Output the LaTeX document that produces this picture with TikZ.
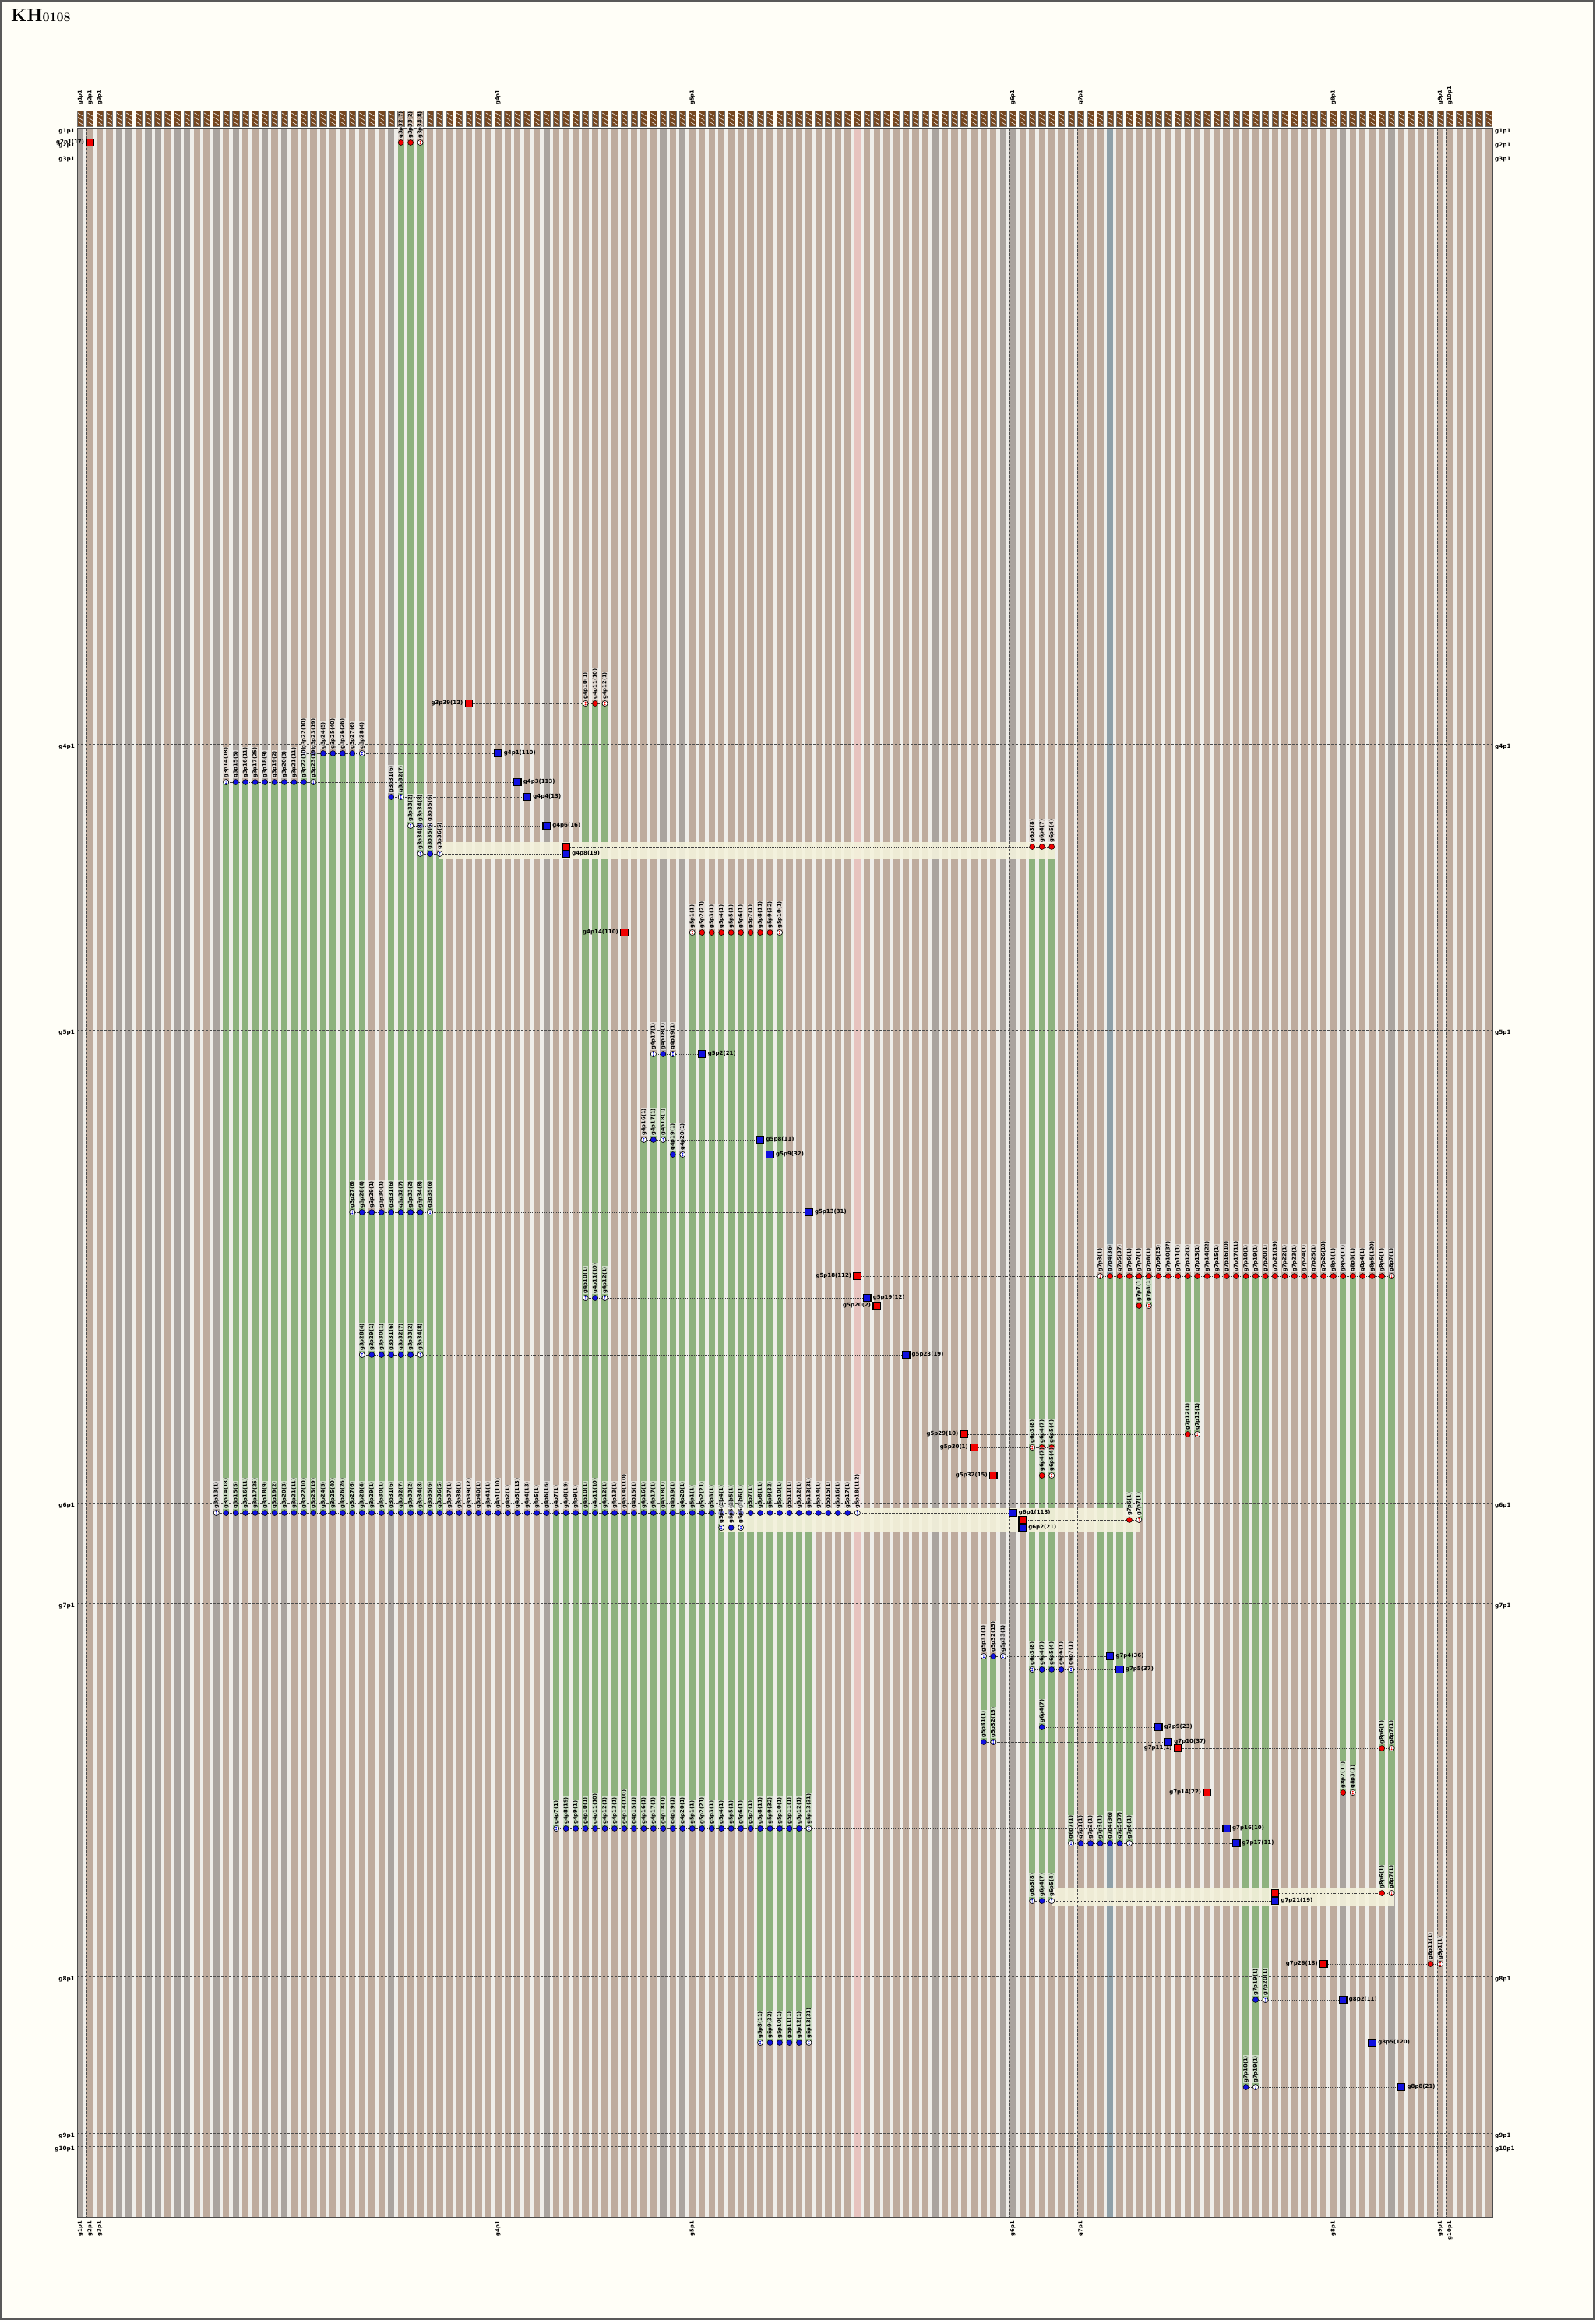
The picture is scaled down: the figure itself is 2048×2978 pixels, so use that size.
\documentclass[tikz,border=0pt]{standalone}
\usepackage{fontspec}
\newfontfamily\lbf{DejaVu Sans}
\pgfdeclarelayer{bg}
\pgfdeclarelayer{ln}
\pgfsetlayers{bg,ln,main}
\definecolor{paper}{HTML}{FFFEF7}
\definecolor{colbr}{HTML}{BEAB9D}
\definecolor{colgr}{HTML}{AAA49F}
\definecolor{colgap}{HTML}{EFEEEA}
\definecolor{colgrn}{HTML}{8EB27E}
\definecolor{colpink}{HTML}{E7C3BF}
\definecolor{colbgr}{HTML}{8FA0A8}
\definecolor{hdr}{HTML}{74461F}
\definecolor{cream}{HTML}{F4F2DC}
\definecolor{nblue}{HTML}{1010E0}
\definecolor{nred}{HTML}{F00000}
\newcommand\X[1]{\fpeval{99+12.47*(#1)}}
\newcommand\setn[2]{\expandafter\def\csname cn#1\endcsname{#2}}
\setn{1}{17}\setn{15}{18}\setn{16}{5}\setn{17}{11}\setn{18}{25}\setn{19}{9}\setn{20}{2}\setn{21}{3}\setn{22}{11}\setn{23}{10}\setn{24}{19}\setn{25}{5}\setn{26}{40}\setn{27}{26}\setn{28}{6}\setn{29}{4}\setn{32}{6}\setn{33}{7}\setn{34}{2}\setn{35}{8}\setn{36}{6}\setn{37}{5}\setn{40}{12}\setn{43}{110}\setn{45}{113}\setn{46}{13}\setn{48}{16}\setn{50}{19}\setn{52}{1}\setn{53}{10}\setn{54}{1}\setn{56}{110}\setn{64}{21}\setn{70}{11}\setn{71}{32}\setn{75}{31}\setn{80}{112}\setn{81}{12}\setn{82}{2}\setn{85}{19}\setn{91}{10}\setn{92}{1}\setn{94}{15}\setn{96}{113}\setn{97}{21}\setn{98}{8}\setn{99}{7}\setn{100}{4}\setn{106}{36}\setn{107}{37}\setn{111}{23}\setn{112}{37}\setn{116}{22}\setn{118}{10}\setn{119}{11}\setn{123}{19}\setn{128}{18}\setn{130}{11}\setn{133}{120}\setn{136}{21}
\newcommand\cname[1]{\ifnum#1=0 g1p1\else\ifnum#1=1 g2p1\else\ifnum#1<43 g3p\number\numexpr#1-1\relax\else\ifnum#1<63 g4p\number\numexpr#1-42\relax\else\ifnum#1<96 g5p\number\numexpr#1-62\relax\else\ifnum#1<103 g6p\number\numexpr#1-95\relax\else\ifnum#1<129 g7p\number\numexpr#1-102\relax\else\ifnum#1<140 g8p\number\numexpr#1-128\relax\else\ifnum#1=140 g9p1\else g10p\number\numexpr#1-140\relax\fi\fi\fi\fi\fi\fi\fi\fi\fi(\ifcsname cn#1\endcsname\csname cn#1\endcsname\else 1\fi)}
\newcommand\alldata{%
\ev{183}{1}{nred}{l}{33,34,35}{35}%
\ev{903}{40}{nred}{l}{52,53,54}{52,54}%
\ev{967}{43}{nblue}{r}{23,...,29}{23,29}%
\ev{1004}{45}{nblue}{r}{15,...,24}{15,24}%
\ev{1023}{46}{nblue}{r}{32,33}{33}%
\ev{1060}{48}{nblue}{r}{34,35,36}{34,36}%
\ev{1087}{50}{nred}{n}{98,99,100}{}%
\ev{1096}{50}{nblue}{r}{35,36,37}{35,37}%
\ev{1197}{56}{nred}{l}{63,...,72}{63,72}%
\ev{1353}{64}{nblue}{r}{59,60,61}{59,61}%
\ev{1463}{70}{nblue}{r}{58,59,60}{58,60}%
\ev{1482}{71}{nblue}{r}{61,62}{62}%
\ev{1556}{75}{nblue}{r}{28,...,36}{28,36}%
\ev{1638}{80}{nred}{l}{105,...,135}{105,135}%
\ev{1666}{81}{nblue}{r}{52,53,54}{52,54}%
\ev{1676}{82}{nred}{l}{109,110}{110}%
\ev{1739}{85}{nblue}{r}{29,...,35}{29,35}%
\ev{1841}{91}{nred}{l}{114,115}{115}%
\ev{1858}{92}{nred}{l}{98,99,100}{98}%
\ev{1894}{94}{nred}{l}{99,100}{100}%
\ev{1942}{96}{nblue}{r}{14,...,80}{14,80}%
\ev{1951}{97}{nred}{n}{108,109}{109}%
\ev{1961}{97}{nblue}{r}{66,67,68}{66,68}%
\ev{2126}{106}{nblue}{r}{93,94,95}{93,95}%
\ev{2143}{107}{nblue}{r}{98,...,102}{98,102}%
\ev{2217}{111}{nblue}{r}{99}{}%
\ev{2236}{112}{nblue}{r}{93,94}{94}%
\ev{2244}{113}{nred}{l}{134,135}{135}%
\ev{2301}{116}{nred}{l}{130,131}{131}%
\ev{2347}{118}{nblue}{r}{49,...,75}{49,75}%
\ev{2366}{119}{nblue}{r}{102,...,108}{102,108}%
\ev{2430}{123}{nred}{n}{134,135}{135}%
\ev{2440}{123}{nblue}{r}{98,99,100}{98,100}%
\ev{2521}{128}{nred}{l}{139,140}{140}%
\ev{2567}{130}{nblue}{r}{121,122}{122}%
\ev{2622}{133}{nblue}{r}{70,...,75}{70,75}%
\ev{2679}{136}{nblue}{r}{120,121}{121}%
}
\begin{document}
\begin{tikzpicture}[x=1pt,y=-1pt,
  sq/.style={rectangle,draw=black,line width=1.3pt,minimum width=9.5pt,minimum height=8.5pt,inner sep=0pt},
  circ/.style={circle,draw=black,line width=.5pt,minimum size=7pt,inner sep=0pt},
  patc/.style={circle,draw=black,line width=.5pt,minimum size=7pt,inner sep=0pt,fill=white,
    path picture={\fill[#1] ([yshift=1.4pt]path picture bounding box.center) circle (1.1pt);
                  \fill[#1] ([yshift=-1.4pt]path picture bounding box.center) circle (1.1pt);}},
  clab/.style={rotate=90,anchor=west,font=\lbf\bfseries\fontsize{6.8}{7}\selectfont,fill=white,fill opacity=.55,text opacity=1,inner sep=.5pt},
  slab/.style={font=\lbf\bfseries\fontsize{7}{8}\selectfont,inner sep=1pt},
  rlab/.style={font=\lbf\bfseries\fontsize{7.2}{8}\selectfont,inner sep=0pt},
  glab/.style={font=\lbf\bfseries\fontsize{6.8}{7}\selectfont,inner sep=0pt,rotate=90},
  evline/.style={black!75,line width=.6pt,dash pattern=on .6pt off 1.2pt},
  rowline/.style={black!70,line width=.7pt,dash pattern=on 3pt off 2pt},
]
\useasboundingbox (0,0) rectangle (2048,2978);
\begin{pgfonlayer}{bg}
\fill[paper] (0,0) rectangle (2048,2978);
\fill[colgap] (99,165) rectangle (1916,2846);
\foreach \c in {0,...,145}{\fill[colbr] (\X{\c},165) rectangle ({\X{\c}+8.3},2846);}
\foreach \c in {0,4,5,7,8,10,11,14,16,19,21,32,48,60,62,88,95,96,130,135}{\fill[colgr] (\X{\c},165) rectangle ({\X{\c}+8.3},2846);}
\fill[colpink] (\X{80},165) rectangle ({\X{80}+8.3},2846);
\fill[colbgr] (\X{106},165) rectangle ({\X{106}+8.3},2846);
\end{pgfonlayer}
% pass 1: record green spans
\def\ev#1#2#3#4#5#6{%
  \foreach \c in {#5}{%
    \ifcsname gmin\c\endcsname
      \ifnum#1<\csname gmin\c\endcsname\relax\expandafter\xdef\csname gmin\c\endcsname{#1}\fi
      \ifnum#1>\csname gmax\c\endcsname\relax\expandafter\xdef\csname gmax\c\endcsname{#1}\fi
    \else
      \expandafter\xdef\csname gmin\c\endcsname{#1}%
      \expandafter\xdef\csname gmax\c\endcsname{#1}%
    \fi}}
\alldata
\begin{pgfonlayer}{bg}
\foreach \c in {0,...,145}{%
  \ifcsname gmin\c\endcsname
    \ifnum\csname gmin\c\endcsname<\csname gmax\c\endcsname\relax
      \fill[colgrn] (\X{\c},\csname gmin\c\endcsname) rectangle ({\X{\c}+8.3},\csname gmax\c\endcsname);
    \fi
  \fi}
\fill[cream,opacity=.9] (564,1081) rectangle (1354,1102);
\fill[cream,opacity=.9] (925,1936) rectangle (1463,1967);
\fill[cream,opacity=.9] (1351,2424) rectangle (1790,2446);
\end{pgfonlayer}
% frame, headers, group lines
\draw[black!65,line width=3pt] (1.5,1.5) rectangle (2046.5,2976.5);
\node[anchor=north west,inner sep=0pt,font=\bfseries\fontsize{23}{23}\selectfont] (title) at (14,12) {KH{\fontsize{16}{16}\selectfont 0108}};
\foreach \c in {0,...,145}{%
  \fill[hdr,draw=black!55,line width=.6pt] (\X{\c},142) rectangle ({\X{\c}+8.3},162);
  \draw[white!85!hdr,line width=.7pt] ({\X{\c}+1},145) -- ({\X{\c}+7.3},149) ({\X{\c}+1},150.5) -- ({\X{\c}+7.3},154.5) ({\X{\c}+1},156) -- ({\X{\c}+7.3},160);
}
\draw[black!70,line width=1pt] (99,165) rectangle (1916,2846);
\begin{pgfonlayer}{ln}
\foreach \c in {1,2,43,63,96,103,129,140,141}{\draw[rowline,line width=.6pt] (\X{\c},165) -- (\X{\c},2846);}
\end{pgfonlayer}
\foreach \c/\t in {0/g1p1,1/g2p1,2/g3p1,43/g4p1,63/g5p1,96/g6p1,103/g7p1,129/g8p1,140/g9p1,141/g10p1}{%
  \node[glab,anchor=west] (gt\t) at ({\X{\c}+4.15},135) {\t};
  \node[glab,anchor=east] (gb\t) at ({\X{\c}+4.15},2851) {\t};
}
\foreach \y/\t in {165/g1p1,183/g2p1,201/g3p1,955/g4p1,1322/g5p1,1929/g6p1,2058/g7p1,2537/g8p1,2738/g9p1,2755/g10p1}{%
  \begin{pgfonlayer}{ln}\draw[rowline] (99,\y) -- (1916,\y);\end{pgfonlayer}
  \node[rlab,anchor=east] (rl\t) at (96,\y+4) {\t};
  \node[rlab,anchor=west] (rr\t) at (1919,\y+4) {\t};
}
% pass 2: draw events
\def\ev#1#2#3#4#5#6{%
  \xdef\mn{#2}\xdef\mx{#2}%
  \foreach \c in {#5}{\ifnum\c<\mn\relax\xdef\mn{\c}\fi\ifnum\c>\mx\relax\xdef\mx{\c}\fi}%
  \foreach \c in {#5}{%
    \node[circ,fill=#3] (c#1-\c) at ({\X{\c}+4.15},#1) {};
  }%
  \foreach \p in {#6}{\ifx\p\empty\else\node[patc=#3] (p#1-\p) at ({\X{\p}+4.15},#1) {};\fi}%
  \foreach \c in {#5}{%
    \node[clab] (l#1-\c) at ({\X{\c}+4.15},#1-4.5) {\cname{\c}};
  }%
  \node[sq,fill=#3] (s#1) at ({\X{#2}+4.15},#1) {};
  \if l#4\node[slab,anchor=east] (t#1) at ([xshift=-1pt]s#1.west) {\cname{#2}};\fi
  \if r#4\node[slab,anchor=west] (t#1) at ([xshift=1pt]s#1.east) {\cname{#2}};\fi
  \begin{pgfonlayer}{ln}%
  \ifnum\mx>#2\relax\edef\doline{\noexpand\draw[evline] (s#1) -- (c#1-\mx);}\doline\fi
  \ifnum\mn<#2\relax\edef\doline{\noexpand\draw[evline] (s#1) -- (c#1-\mn);}\doline\fi
  \end{pgfonlayer}%
}
\alldata
\end{tikzpicture}
\end{document}
